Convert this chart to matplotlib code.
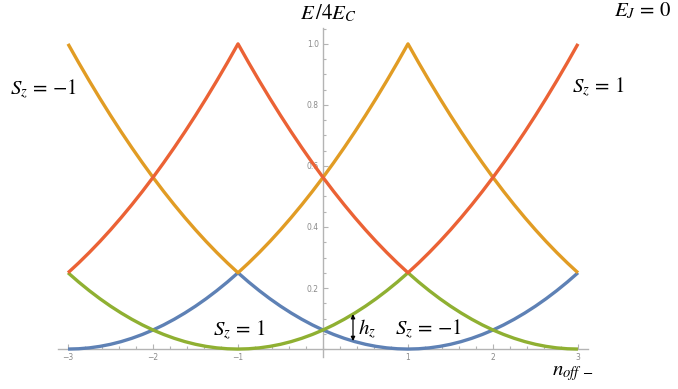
import matplotlib

matplotlib.use("Agg")
import matplotlib.pyplot as plt
import numpy as np
from matplotlib.ticker import FixedLocator, MultipleLocator

plt.rcParams["mathtext.fontset"] = "stix"

# offset charge samples and band energies E/4E_C
n_off = [-3.0, -2.875, -2.75, -2.625, -2.5, -2.375, -2.25, -2.125, -2.0, -1.875, -1.75, -1.625,
         -1.5, -1.375, -1.25, -1.125, -1.0, -0.875, -0.75, -0.625, -0.5, -0.375, -0.25, -0.125,
         0.0, 0.125, 0.25, 0.375, 0.5, 0.625, 0.75, 0.875, 1.0, 1.125, 1.25, 1.375,
         1.5, 1.625, 1.75, 1.875, 2.0, 2.125, 2.25, 2.375, 2.5, 2.625, 2.75, 2.875, 3.0]
blue = [0, .001, .0039, .0088, .0156, .0244, .0352, .0479, .0625, .0791, .0977, .1182, .1406,
        .165, .1914, .2197, .25,
        .2197, .1914, .165, .1406, .1182, .0977, .0791, .0625, .0479, .0352, .0244, .0156,
        .0088, .0039, .001, 0,
        .001, .0039, .0088, .0156, .0244, .0352, .0479, .0625, .0791, .0977, .1182, .1406,
        .165, .1914, .2197, .25]
orange = [1, .9385, .8789, .8213, .7656, .7119, .6602, .6104, .5625, .5166, .4727, .4307, .3906,
          .3525, .3164, .2822, .25,
          .2822, .3164, .3525, .3906, .4307, .4727, .5166, .5625, .6104, .6602, .7119, .7656,
          .8213, .8789, .9385, 1,
          .9385, .8789, .8213, .7656, .7119, .6602, .6104, .5625, .5166, .4727, .4307, .3906,
          .3525, .3164, .2822, .25]
green = [.25, .2197, .1914, .165, .1406, .1182, .0977, .0791, .0625, .0479, .0352, .0244, .0156,
         .0088, .0039, .001, 0,
         .001, .0039, .0088, .0156, .0244, .0352, .0479, .0625, .0791, .0977, .1182, .1406,
         .165, .1914, .2197, .25,
         .2197, .1914, .165, .1406, .1182, .0977, .0791, .0625, .0479, .0352, .0244, .0156,
         .0088, .0039, .001, 0]
red = [.25, .2822, .3164, .3525, .3906, .4307, .4727, .5166, .5625, .6104, .6602, .7119, .7656,
       .8213, .8789, .9385, 1,
       .9385, .8789, .8213, .7656, .7119, .6602, .6104, .5625, .5166, .4727, .4307, .3906,
       .3525, .3164, .2822, .25,
       .2822, .3164, .3525, .3906, .4307, .4727, .5166, .5625, .6104, .6602, .7119, .7656,
       .8213, .8789, .9385, 1]

x_ticks = [-3, -2, -1, 1, 2, 3]
y_ticks = [0.2, 0.4, 0.6, 0.8, 1.0]
hz_at = 0.353  # where the h_z gap arrow sits

colors = {"blue": "#5e81b5", "orange": "#e19c24", "green": "#8fb032", "red": "#eb6235"}
axis_c, label_c = "#b4b4b4", "#8a8a8a"

fig = plt.figure(figsize=(6.78, 3.89), dpi=100)
ax = fig.add_axes([58 / 678, 32 / 389, 530 / 678, 329 / 389])

for name, ys in [("blue", blue), ("orange", orange), ("green", green), ("red", red)]:
    ax.plot(n_off, ys, color=colors[name], lw=2.4, solid_capstyle="butt", zorder=3)

ax.set_xlim(-3.118, 3.118)
ax.set_ylim(-0.026, 1.052)

for side in ("top", "right"):
    ax.spines[side].set_visible(False)
ax.spines["left"].set_position(("data", 0))
ax.spines["bottom"].set_position(("data", 0))
for side in ("left", "bottom"):
    ax.spines[side].set_color(axis_c)
    ax.spines[side].set_linewidth(1.0)
    ax.spines[side].set_zorder(1)

ax.xaxis.set_major_locator(FixedLocator(x_ticks))
ax.xaxis.set_minor_locator(MultipleLocator(0.2))
ax.yaxis.set_major_locator(FixedLocator(y_ticks))
ax.yaxis.set_minor_locator(MultipleLocator(0.05))
ax.set_xticklabels([f"{v:d}".replace("-", "\u2212") for v in x_ticks])
ax.set_yticklabels([f"{v:.1f}" for v in y_ticks])
ax.tick_params(which="both", direction="in", color=axis_c, width=0.8,
               labelsize=5.5, labelcolor=label_c)
ax.tick_params(which="major", length=3.5, pad=3)
ax.tick_params(which="minor", length=2)

# gap arrow between the two lowest bands
y_lo = np.interp(hz_at, n_off, blue)
y_hi = np.interp(hz_at, n_off, green)
ax.annotate("", xy=(hz_at, y_hi), xytext=(hz_at, y_lo),
            arrowprops=dict(arrowstyle="<|-|>", color="black", lw=0.9,
                            mutation_scale=6, shrinkA=0, shrinkB=0), zorder=4)

fs = 15
labels = [
    (-0.27, 1.079, r"$E\,/4E_C$", "left"),
    (4.10, 1.089, r"$E_J\,=\,0$", "right"),
    (-3.68, 0.833, r"$S_z\,=\,{-}1$", "left"),
    (2.93, 0.839, r"$S_z\,=\,1$", "left"),
    (-1.294, 0.043, r"$S_z\,=\,1$", "left"),
    (0.41, 0.046, r"$h_z$", "left"),
    (0.847, 0.046, r"$S_z\,=\,{-}1$", "left"),
    (2.69, -0.086, r"$n_{off\;-}$", "left"),
]
for tx, ty, s, ha in labels:
    ax.text(tx, ty, s, fontsize=fs, ha=ha, va="baseline")

fig.savefig("out.png", dpi=100)
